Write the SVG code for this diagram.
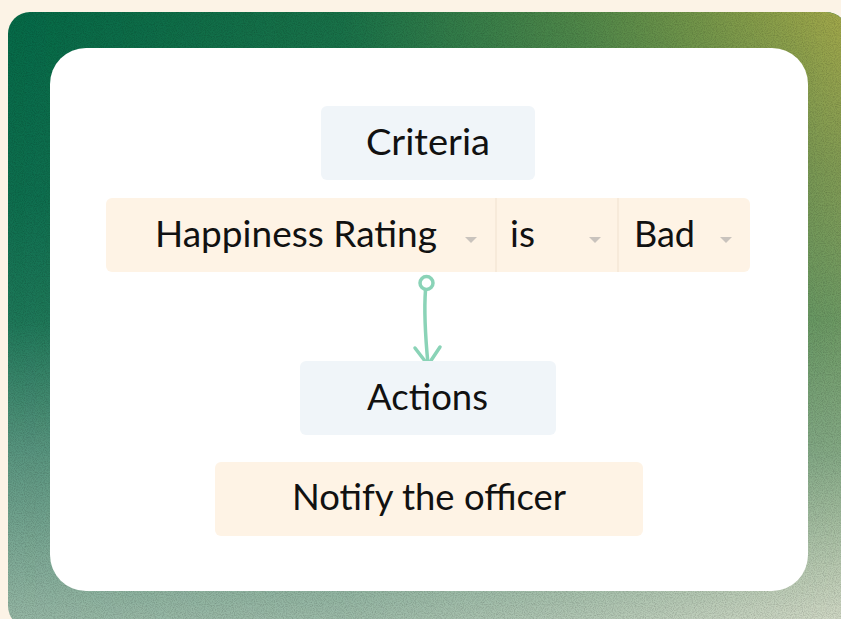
<svg xmlns="http://www.w3.org/2000/svg" width="841" height="619" viewBox="0 0 841 619">
  <defs>
    <style>
      .label { font-family: Lato, "Open Sans", sans-serif; font-size: 37px; fill: #111111; }
      .blue { fill: #F0F5F9; }
      .cream { fill: #FEF3E5; }
      .caret { fill: #C9C3BD; }
      .divider { stroke: #F2E4D2; stroke-width: 1.2; }
      .link { fill: none; stroke: #8AD3B7; stroke-width: 3.5; stroke-linecap: round; stroke-linejoin: round; }
    </style>
    <!-- left column of the frame gradient -->
    <linearGradient id="leftCol" x1="0" y1="0" x2="0" y2="1">
      <stop offset="0" stop-color="#066A48"/>
      <stop offset="0.3" stop-color="#0E6F4F"/>
      <stop offset="0.5" stop-color="#1E7859"/>
      <stop offset="0.72" stop-color="#5A9680"/>
      <stop offset="1" stop-color="#98B8A6"/>
    </linearGradient>
    <!-- right column of the frame gradient -->
    <linearGradient id="rightCol" x1="0" y1="0" x2="0" y2="1">
      <stop offset="0" stop-color="#A2A84A"/>
      <stop offset="0.25" stop-color="#829B54"/>
      <stop offset="0.5" stop-color="#6E9A64"/>
      <stop offset="0.72" stop-color="#86AA86"/>
      <stop offset="1" stop-color="#D4DAC8"/>
    </linearGradient>
    <linearGradient id="rampRight" x1="0" y1="0" x2="1" y2="0">
      <stop offset="0" stop-color="#fff" stop-opacity="0"/>
      <stop offset="0.4" stop-color="#fff" stop-opacity="0.12"/>
      <stop offset="0.7" stop-color="#fff" stop-opacity="0.5"/>
      <stop offset="1" stop-color="#fff" stop-opacity="1"/>
    </linearGradient>
    <mask id="rightMask" maskUnits="userSpaceOnUse" x="0" y="0" width="860" height="630">
      <rect x="8" y="0" width="833" height="630" fill="url(#rampRight)"/>
    </mask>
    <clipPath id="frameClip">
      <rect x="8" y="12" width="840" height="616" rx="22"/>
    </clipPath>
    <filter id="grain" x="0" y="0" width="100%" height="100%">
      <feTurbulence type="fractalNoise" baseFrequency="0.9" numOctaves="2" seed="3" result="n"/>
      <feColorMatrix in="n" type="matrix" values="0 0 0 0 0  0 0 0 0 0  0 0 0 0 0  0 0 0 -1.2 0.75"/>
    </filter>
  </defs>

  <!-- page background -->
  <rect x="0" y="0" width="841" height="619" fill="#FCF3E6"/>

  <!-- gradient frame with grain -->
  <g id="frame" clip-path="url(#frameClip)">
    <rect x="8" y="12" width="840" height="616" fill="url(#leftCol)"/>
    <rect x="8" y="12" width="840" height="616" fill="url(#rightCol)" mask="url(#rightMask)"/>
    <rect x="8" y="12" width="840" height="616" filter="url(#grain)" opacity="0.26"/>
  </g>

  <!-- white card -->
  <rect id="card" x="50" y="48" width="758" height="543" rx="36" fill="#FFFFFF"/>

  <g id="criteria">
    <rect class="blue" x="321" y="106" width="214" height="74" rx="6"/>
    <text class="label" x="366" y="155" textLength="124" lengthAdjust="spacingAndGlyphs">Criteria</text>
  </g>

  <g id="condition">
    <rect class="cream" x="106" y="198" width="644" height="74" rx="6"/>
    <line class="divider" x1="496" y1="198" x2="496" y2="272"/>
    <line class="divider" x1="618" y1="198" x2="618" y2="272"/>
    <g id="field">
      <text class="label" x="155" y="247" textLength="282" lengthAdjust="spacingAndGlyphs">Happiness Rating</text>
      <polygon class="caret" points="465,237 477,237 471,243"/>
    </g>
    <g id="operator">
      <text class="label" x="510" y="247">is</text>
      <polygon class="caret" points="589,237 601,237 595,243"/>
    </g>
    <g id="value">
      <text class="label" x="634" y="247" textLength="61" lengthAdjust="spacingAndGlyphs">Bad</text>
      <polygon class="caret" points="720,237 732,237 726,243"/>
    </g>
  </g>

  <g id="connectors">
    <circle class="link" cx="426.5" cy="283" r="6.5"/>
    <path class="link" d="M425.5 290 C424 310 425.5 338 428 364"/>
    <path class="link" d="M415 348 L428 365 L440 347"/>
  </g>

  <g id="actions">
    <rect class="blue" x="300" y="361" width="256" height="74" rx="6"/>
    <text class="label" x="367" y="410" textLength="121" lengthAdjust="spacingAndGlyphs">Actions</text>
  </g>

  <g id="notify">
    <rect class="cream" x="215" y="462" width="428" height="74" rx="6"/>
    <text class="label" x="292" y="510" textLength="274" lengthAdjust="spacingAndGlyphs">Notify the officer</text>
  </g>
</svg>
